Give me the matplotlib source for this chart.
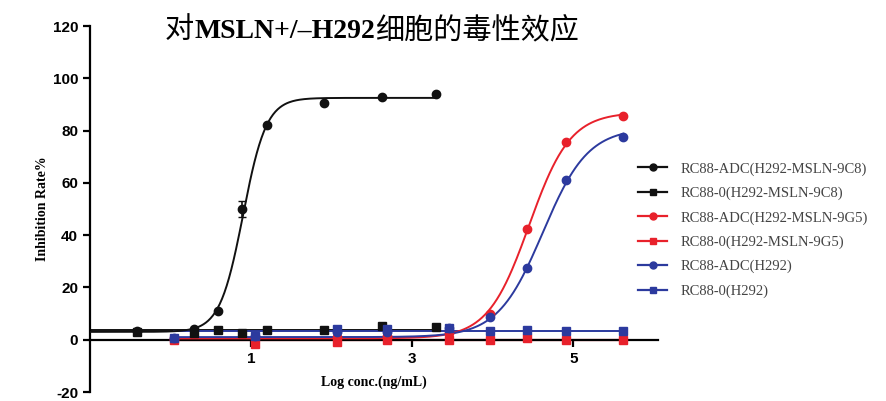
import numpy as np
import matplotlib.pyplot as plt
from matplotlib.lines import Line2D

plt.rcParams["axes.unicode_minus"] = False

# data (x = log conc, y = inhibition %)
x_9c8 = [-0.42, 0.29, 0.59, 0.89, 1.2, 1.9, 2.62, 3.3]
adc_9c8 = [3.2, 4.0, 11.0, 50.0, 82.0, 90.5, 93.0, 94.0]
adc_9c8_err = [0, 0, 0, 3.0, 0, 0, 0, 0]
ctl_9c8 = [3.0, 2.7, 3.8, 2.7, 3.8, 3.8, 5.3, 5.0]

x_rb = [0.04, 1.05, 2.06, 2.69, 3.46, 3.96, 4.43, 4.91, 5.62]
adc_9g5 = [0.3, 0.5, 1.0, 1.5, 2.5, 10.0, 42.3, 75.8, 85.7]
ctl_9g5 = [0.0, -1.5, -0.8, 0.0, 0.0, -0.3, 0.5, 0.0, -0.2]
adc_h292 = [0.5, 1.5, 3.0, 3.0, 4.5, 8.7, 27.4, 61.0, 77.7]
ctl_h292 = [0.5, 1.5, 4.0, 4.0, 4.5, 3.4, 3.8, 3.4, 3.4]

# 4PL fit parameters (bottom, top, logEC50, hill) estimated from the drawn curves
fit_9c8 = (3.0, 92.5, 0.9, 3.0)
fit_9g5 = (0.5, 87.0, 4.45, 1.7)
fit_h292 = (1.0, 81.0, 4.62, 1.55)

labels = ["RC88-ADC(H292-MSLN-9C8)", "RC88-0(H292-MSLN-9C8)",
          "RC88-ADC(H292-MSLN-9G5)", "RC88-0(H292-MSLN-9G5)",
          "RC88-ADC(H292)", "RC88-0(H292)"]

BLACK = "#111111"
RED = "#e8212b"
BLUE = "#2c3a9e"


def four_pl(x, p):
    b, t, ec, h = p
    return b + (t - b) / (1 + 10 ** ((ec - x) * h))


fig = plt.figure(figsize=(8.86, 4.01), dpi=100)
ax = fig.add_axes([90 / 886, 1 - 392 / 401, (658 - 90) / 886, (392 - 26) / 401])

# fitted curves
xs = np.linspace(-1.0, x_9c8[-1], 300)
ax.plot(xs, four_pl(xs, fit_9c8), color=BLACK, lw=1.4, zorder=3)
ax.plot([-1.0, x_9c8[-1]], [np.mean(ctl_9c8)] * 2, color=BLACK, lw=1.4, zorder=2)
xs2 = np.linspace(x_rb[0], x_rb[-1], 300)
ax.plot(xs2, four_pl(xs2, fit_9g5), color=RED, lw=1.4, zorder=3)
ax.plot(xs2, four_pl(xs2, fit_h292), color=BLUE, lw=1.4, zorder=3)
ax.plot([x_rb[0], x_rb[-1]], [np.mean(ctl_9g5)] * 2, color=RED, lw=1.6, zorder=2)
ax.plot([x_rb[0], x_rb[-1]], [np.mean(ctl_h292)] * 2, color=BLUE, lw=1.4, zorder=2)

# data points
ax.errorbar(x_9c8, adc_9c8, yerr=adc_9c8_err, fmt="o", color=BLACK, ms=6,
            capsize=3, elinewidth=1.2, zorder=5)
ax.plot(x_9c8, ctl_9c8, "s", color=BLACK, ms=6, zorder=4)
ax.plot(x_rb, ctl_9g5, "s", color=RED, ms=6, zorder=4)
ax.plot(x_rb, adc_9g5, "o", color=RED, ms=6, zorder=5)
ax.plot(x_rb, ctl_h292, "s", color=BLUE, ms=6, zorder=5)
ax.plot(x_rb, adc_h292, "o", color=BLUE, ms=6, zorder=6)

ax.set_xlim(-1.0, 6.05)
ax.set_ylim(-20, 120)
ax.set_yticks(range(-20, 121, 20))
ax.set_xticks([1, 3, 5])
ax.spines["top"].set_color("none")
ax.spines["right"].set_color("none")
ax.spines["bottom"].set_position(("data", 0))
ax.spines["left"].set_linewidth(1.6)
ax.spines["bottom"].set_linewidth(1.6)
ax.tick_params(width=1.6, length=5, direction="out")
for lab in ax.get_xticklabels() + ax.get_yticklabels():
    lab.set_fontfamily("Liberation Sans")
    lab.set_fontweight("bold")
    lab.set_fontsize(11)

ax.set_xlabel("Log conc.(ng/mL)", family="Liberation Serif", weight="bold",
              fontsize=10, labelpad=7)
ax.set_ylabel("Inhibition Rate%", family="Liberation Serif", weight="bold",
              fontsize=10, labelpad=3)

# legend
handles = [
    Line2D([], [], color=BLACK, marker="o", ms=5, lw=1.6),
    Line2D([], [], color=BLACK, marker="s", ms=5, lw=1.6),
    Line2D([], [], color=RED, marker="o", ms=5, lw=1.6),
    Line2D([], [], color=RED, marker="s", ms=5, lw=1.6),
    Line2D([], [], color=BLUE, marker="o", ms=5, lw=1.6),
    Line2D([], [], color=BLUE, marker="s", ms=5, lw=1.6),
]
leg = fig.legend(handles, labels, loc="center left", bbox_to_anchor=(625 / 886, 1 - 230 / 401),
                 frameon=False, handlelength=2.0, handletextpad=0.9, labelspacing=0.75,
                 prop={"family": "Liberation Serif", "size": 10.5})
for t in leg.get_texts():
    t.set_color("#444444")

# title: mixed CJK + bold Latin
fig.canvas.draw()
r = fig.canvas.get_renderer()
x0 = 165 / 886
yb = 1 - 38 / 401
parts = [("对", ["Noto Sans CJK SC"], "normal", 21),
         ("MSLN+/–H292", ["Liberation Serif"], "bold", 20),
         ("细胞的毒性效应", ["Noto Sans CJK SC"], "normal", 21)]
for txt, fam, wt, sz in parts:
    t = fig.text(x0, yb, txt, family=fam, weight=wt, fontsize=sz, va="baseline", ha="left")
    bb = t.get_window_extent(renderer=r)
    x0 = x0 + bb.width / fig.bbox.width

fig.savefig("out.png", dpi=100)
